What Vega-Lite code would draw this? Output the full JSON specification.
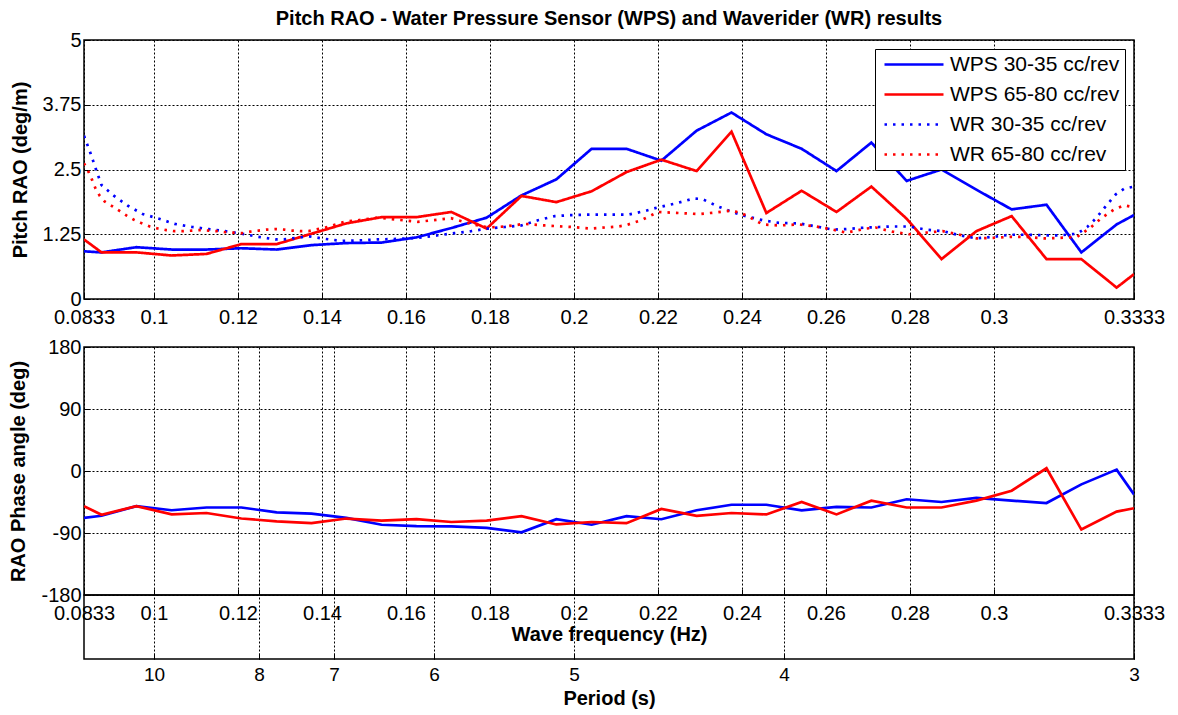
{
  "$schema": "https://vega.github.io/schema/vega-lite/v6.json",
  "padding": {"left": 8, "top": 8, "right": 5, "bottom": 3},
  "background": "white",
  "config": {
    "font": "Liberation Sans",
    "view": {"stroke": "black", "strokeWidth": 1.5},
    "axis": {
      "domain": false, "grid": true, "gridColor": "black", "gridDash": [2, 2], "gridWidth": 1, "gridOpacity": 1,
      "tickColor": "black", "tickSize": -6, "tickWidth": 1,
      "labelFontSize": 20, "labelColor": "black", "labelFont": "Liberation Sans",
      "titleFontSize": 20, "titleFontWeight": "bold", "titleColor": "black", "titleFont": "Liberation Sans",
      "labelFlush": false, "labelOverlap": false
    },
    "legend": {
      "labelFontSize": 21, "labelFont": "Liberation Sans", "labelColor": "black", "labelLimit": 400,
      "strokeColor": "black", "fillColor": "white", "padding": 5, "rowPadding": 8, "clipHeight": 21,
      "symbolType": "stroke", "symbolSize": 3481, "symbolStrokeWidth": 2.5, "symbolOffset": 3, "labelOffset": 5, "offset": 9
    }
  },
  "datasets": {
    "rao": [
      {"f": 0.083333, "v": 0.92, "s": "WPS 30-35 cc/rev"},
      {"f": 0.0875, "v": 0.90, "s": "WPS 30-35 cc/rev"},
      {"f": 0.0958, "v": 1.00, "s": "WPS 30-35 cc/rev"},
      {"f": 0.1042, "v": 0.955, "s": "WPS 30-35 cc/rev"},
      {"f": 0.1125, "v": 0.955, "s": "WPS 30-35 cc/rev"},
      {"f": 0.1208, "v": 0.98, "s": "WPS 30-35 cc/rev"},
      {"f": 0.1292, "v": 0.955, "s": "WPS 30-35 cc/rev"},
      {"f": 0.1375, "v": 1.04, "s": "WPS 30-35 cc/rev"},
      {"f": 0.1458, "v": 1.08, "s": "WPS 30-35 cc/rev"},
      {"f": 0.1542, "v": 1.09, "s": "WPS 30-35 cc/rev"},
      {"f": 0.1625, "v": 1.19, "s": "WPS 30-35 cc/rev"},
      {"f": 0.1708, "v": 1.37, "s": "WPS 30-35 cc/rev"},
      {"f": 0.1792, "v": 1.57, "s": "WPS 30-35 cc/rev"},
      {"f": 0.1875, "v": 2.00, "s": "WPS 30-35 cc/rev"},
      {"f": 0.1958, "v": 2.31, "s": "WPS 30-35 cc/rev"},
      {"f": 0.2042, "v": 2.90, "s": "WPS 30-35 cc/rev"},
      {"f": 0.2125, "v": 2.90, "s": "WPS 30-35 cc/rev"},
      {"f": 0.2208, "v": 2.67, "s": "WPS 30-35 cc/rev"},
      {"f": 0.2292, "v": 3.25, "s": "WPS 30-35 cc/rev"},
      {"f": 0.2375, "v": 3.60, "s": "WPS 30-35 cc/rev"},
      {"f": 0.2458, "v": 3.18, "s": "WPS 30-35 cc/rev"},
      {"f": 0.2542, "v": 2.90, "s": "WPS 30-35 cc/rev"},
      {"f": 0.2625, "v": 2.47, "s": "WPS 30-35 cc/rev"},
      {"f": 0.2708, "v": 3.02, "s": "WPS 30-35 cc/rev"},
      {"f": 0.2792, "v": 2.28, "s": "WPS 30-35 cc/rev"},
      {"f": 0.2875, "v": 2.50, "s": "WPS 30-35 cc/rev"},
      {"f": 0.2958, "v": 2.11, "s": "WPS 30-35 cc/rev"},
      {"f": 0.3042, "v": 1.73, "s": "WPS 30-35 cc/rev"},
      {"f": 0.3125, "v": 1.82, "s": "WPS 30-35 cc/rev"},
      {"f": 0.3208, "v": 0.90, "s": "WPS 30-35 cc/rev"},
      {"f": 0.3292, "v": 1.44, "s": "WPS 30-35 cc/rev"},
      {"f": 0.333333, "v": 1.62, "s": "WPS 30-35 cc/rev"},
      {"f": 0.083333, "v": 1.15, "s": "WPS 65-80 cc/rev"},
      {"f": 0.0875, "v": 0.90, "s": "WPS 65-80 cc/rev"},
      {"f": 0.0958, "v": 0.90, "s": "WPS 65-80 cc/rev"},
      {"f": 0.1042, "v": 0.84, "s": "WPS 65-80 cc/rev"},
      {"f": 0.1125, "v": 0.87, "s": "WPS 65-80 cc/rev"},
      {"f": 0.1208, "v": 1.06, "s": "WPS 65-80 cc/rev"},
      {"f": 0.1292, "v": 1.06, "s": "WPS 65-80 cc/rev"},
      {"f": 0.1375, "v": 1.26, "s": "WPS 65-80 cc/rev"},
      {"f": 0.1458, "v": 1.46, "s": "WPS 65-80 cc/rev"},
      {"f": 0.1542, "v": 1.58, "s": "WPS 65-80 cc/rev"},
      {"f": 0.1625, "v": 1.58, "s": "WPS 65-80 cc/rev"},
      {"f": 0.1708, "v": 1.68, "s": "WPS 65-80 cc/rev"},
      {"f": 0.1792, "v": 1.36, "s": "WPS 65-80 cc/rev"},
      {"f": 0.1875, "v": 1.99, "s": "WPS 65-80 cc/rev"},
      {"f": 0.1958, "v": 1.87, "s": "WPS 65-80 cc/rev"},
      {"f": 0.2042, "v": 2.08, "s": "WPS 65-80 cc/rev"},
      {"f": 0.2125, "v": 2.45, "s": "WPS 65-80 cc/rev"},
      {"f": 0.2208, "v": 2.69, "s": "WPS 65-80 cc/rev"},
      {"f": 0.2292, "v": 2.47, "s": "WPS 65-80 cc/rev"},
      {"f": 0.2375, "v": 3.23, "s": "WPS 65-80 cc/rev"},
      {"f": 0.2458, "v": 1.66, "s": "WPS 65-80 cc/rev"},
      {"f": 0.2542, "v": 2.09, "s": "WPS 65-80 cc/rev"},
      {"f": 0.2625, "v": 1.68, "s": "WPS 65-80 cc/rev"},
      {"f": 0.2708, "v": 2.17, "s": "WPS 65-80 cc/rev"},
      {"f": 0.2792, "v": 1.55, "s": "WPS 65-80 cc/rev"},
      {"f": 0.2875, "v": 0.77, "s": "WPS 65-80 cc/rev"},
      {"f": 0.2958, "v": 1.31, "s": "WPS 65-80 cc/rev"},
      {"f": 0.3042, "v": 1.60, "s": "WPS 65-80 cc/rev"},
      {"f": 0.3125, "v": 0.77, "s": "WPS 65-80 cc/rev"},
      {"f": 0.3208, "v": 0.77, "s": "WPS 65-80 cc/rev"},
      {"f": 0.3292, "v": 0.22, "s": "WPS 65-80 cc/rev"},
      {"f": 0.333333, "v": 0.48, "s": "WPS 65-80 cc/rev"},
      {"f": 0.083333, "v": 3.15, "s": "WR 30-35 cc/rev"},
      {"f": 0.0849, "v": 2.81, "s": "WR 30-35 cc/rev"},
      {"f": 0.0862, "v": 2.50, "s": "WR 30-35 cc/rev"},
      {"f": 0.0875, "v": 2.20, "s": "WR 30-35 cc/rev"},
      {"f": 0.0905, "v": 1.99, "s": "WR 30-35 cc/rev"},
      {"f": 0.0938, "v": 1.80, "s": "WR 30-35 cc/rev"},
      {"f": 0.0973, "v": 1.64, "s": "WR 30-35 cc/rev"},
      {"f": 0.1012, "v": 1.55, "s": "WR 30-35 cc/rev"},
      {"f": 0.1049, "v": 1.45, "s": "WR 30-35 cc/rev"},
      {"f": 0.1091, "v": 1.39, "s": "WR 30-35 cc/rev"},
      {"f": 0.113, "v": 1.35, "s": "WR 30-35 cc/rev"},
      {"f": 0.1169, "v": 1.31, "s": "WR 30-35 cc/rev"},
      {"f": 0.1209, "v": 1.26, "s": "WR 30-35 cc/rev"},
      {"f": 0.1248, "v": 1.20, "s": "WR 30-35 cc/rev"},
      {"f": 0.1289, "v": 1.15, "s": "WR 30-35 cc/rev"},
      {"f": 0.1309, "v": 1.15, "s": "WR 30-35 cc/rev"},
      {"f": 0.1348, "v": 1.19, "s": "WR 30-35 cc/rev"},
      {"f": 0.1368, "v": 1.21, "s": "WR 30-35 cc/rev"},
      {"f": 0.1408, "v": 1.16, "s": "WR 30-35 cc/rev"},
      {"f": 0.1448, "v": 1.12, "s": "WR 30-35 cc/rev"},
      {"f": 0.1485, "v": 1.13, "s": "WR 30-35 cc/rev"},
      {"f": 0.1532, "v": 1.15, "s": "WR 30-35 cc/rev"},
      {"f": 0.158, "v": 1.16, "s": "WR 30-35 cc/rev"},
      {"f": 0.1628, "v": 1.18, "s": "WR 30-35 cc/rev"},
      {"f": 0.1676, "v": 1.23, "s": "WR 30-35 cc/rev"},
      {"f": 0.1715, "v": 1.27, "s": "WR 30-35 cc/rev"},
      {"f": 0.1755, "v": 1.31, "s": "WR 30-35 cc/rev"},
      {"f": 0.1795, "v": 1.36, "s": "WR 30-35 cc/rev"},
      {"f": 0.1835, "v": 1.39, "s": "WR 30-35 cc/rev"},
      {"f": 0.1875, "v": 1.42, "s": "WR 30-35 cc/rev"},
      {"f": 0.1914, "v": 1.52, "s": "WR 30-35 cc/rev"},
      {"f": 0.1954, "v": 1.60, "s": "WR 30-35 cc/rev"},
      {"f": 0.1994, "v": 1.62, "s": "WR 30-35 cc/rev"},
      {"f": 0.2041, "v": 1.63, "s": "WR 30-35 cc/rev"},
      {"f": 0.2105, "v": 1.63, "s": "WR 30-35 cc/rev"},
      {"f": 0.213, "v": 1.63, "s": "WR 30-35 cc/rev"},
      {"f": 0.217, "v": 1.70, "s": "WR 30-35 cc/rev"},
      {"f": 0.22, "v": 1.77, "s": "WR 30-35 cc/rev"},
      {"f": 0.224, "v": 1.84, "s": "WR 30-35 cc/rev"},
      {"f": 0.2285, "v": 1.94, "s": "WR 30-35 cc/rev"},
      {"f": 0.2305, "v": 1.93, "s": "WR 30-35 cc/rev"},
      {"f": 0.2345, "v": 1.78, "s": "WR 30-35 cc/rev"},
      {"f": 0.2377, "v": 1.68, "s": "WR 30-35 cc/rev"},
      {"f": 0.2409, "v": 1.60, "s": "WR 30-35 cc/rev"},
      {"f": 0.2449, "v": 1.52, "s": "WR 30-35 cc/rev"},
      {"f": 0.2488, "v": 1.47, "s": "WR 30-35 cc/rev"},
      {"f": 0.2536, "v": 1.46, "s": "WR 30-35 cc/rev"},
      {"f": 0.2576, "v": 1.40, "s": "WR 30-35 cc/rev"},
      {"f": 0.2616, "v": 1.34, "s": "WR 30-35 cc/rev"},
      {"f": 0.2648, "v": 1.35, "s": "WR 30-35 cc/rev"},
      {"f": 0.2696, "v": 1.38, "s": "WR 30-35 cc/rev"},
      {"f": 0.2727, "v": 1.39, "s": "WR 30-35 cc/rev"},
      {"f": 0.2758, "v": 1.40, "s": "WR 30-35 cc/rev"},
      {"f": 0.2798, "v": 1.40, "s": "WR 30-35 cc/rev"},
      {"f": 0.2838, "v": 1.34, "s": "WR 30-35 cc/rev"},
      {"f": 0.2878, "v": 1.31, "s": "WR 30-35 cc/rev"},
      {"f": 0.2918, "v": 1.23, "s": "WR 30-35 cc/rev"},
      {"f": 0.2958, "v": 1.17, "s": "WR 30-35 cc/rev"},
      {"f": 0.2998, "v": 1.20, "s": "WR 30-35 cc/rev"},
      {"f": 0.3038, "v": 1.24, "s": "WR 30-35 cc/rev"},
      {"f": 0.3078, "v": 1.24, "s": "WR 30-35 cc/rev"},
      {"f": 0.3118, "v": 1.23, "s": "WR 30-35 cc/rev"},
      {"f": 0.3158, "v": 1.23, "s": "WR 30-35 cc/rev"},
      {"f": 0.3198, "v": 1.26, "s": "WR 30-35 cc/rev"},
      {"f": 0.3222, "v": 1.39, "s": "WR 30-35 cc/rev"},
      {"f": 0.3242, "v": 1.55, "s": "WR 30-35 cc/rev"},
      {"f": 0.3266, "v": 1.79, "s": "WR 30-35 cc/rev"},
      {"f": 0.329, "v": 2.02, "s": "WR 30-35 cc/rev"},
      {"f": 0.331, "v": 2.13, "s": "WR 30-35 cc/rev"},
      {"f": 0.333333, "v": 2.17, "s": "WR 30-35 cc/rev"},
      {"f": 0.083333, "v": 2.62, "s": "WR 65-80 cc/rev"},
      {"f": 0.0845, "v": 2.44, "s": "WR 65-80 cc/rev"},
      {"f": 0.0853, "v": 2.29, "s": "WR 65-80 cc/rev"},
      {"f": 0.0861, "v": 2.13, "s": "WR 65-80 cc/rev"},
      {"f": 0.0871, "v": 1.99, "s": "WR 65-80 cc/rev"},
      {"f": 0.0883, "v": 1.88, "s": "WR 65-80 cc/rev"},
      {"f": 0.0901, "v": 1.79, "s": "WR 65-80 cc/rev"},
      {"f": 0.0918, "v": 1.70, "s": "WR 65-80 cc/rev"},
      {"f": 0.0935, "v": 1.61, "s": "WR 65-80 cc/rev"},
      {"f": 0.0952, "v": 1.53, "s": "WR 65-80 cc/rev"},
      {"f": 0.0971, "v": 1.46, "s": "WR 65-80 cc/rev"},
      {"f": 0.099, "v": 1.40, "s": "WR 65-80 cc/rev"},
      {"f": 0.1009, "v": 1.36, "s": "WR 65-80 cc/rev"},
      {"f": 0.1029, "v": 1.33, "s": "WR 65-80 cc/rev"},
      {"f": 0.1048, "v": 1.31, "s": "WR 65-80 cc/rev"},
      {"f": 0.1069, "v": 1.31, "s": "WR 65-80 cc/rev"},
      {"f": 0.109, "v": 1.32, "s": "WR 65-80 cc/rev"},
      {"f": 0.111, "v": 1.33, "s": "WR 65-80 cc/rev"},
      {"f": 0.113, "v": 1.32, "s": "WR 65-80 cc/rev"},
      {"f": 0.115, "v": 1.31, "s": "WR 65-80 cc/rev"},
      {"f": 0.117, "v": 1.29, "s": "WR 65-80 cc/rev"},
      {"f": 0.119, "v": 1.28, "s": "WR 65-80 cc/rev"},
      {"f": 0.1209, "v": 1.27, "s": "WR 65-80 cc/rev"},
      {"f": 0.1229, "v": 1.30, "s": "WR 65-80 cc/rev"},
      {"f": 0.1249, "v": 1.32, "s": "WR 65-80 cc/rev"},
      {"f": 0.1269, "v": 1.34, "s": "WR 65-80 cc/rev"},
      {"f": 0.129, "v": 1.35, "s": "WR 65-80 cc/rev"},
      {"f": 0.131, "v": 1.34, "s": "WR 65-80 cc/rev"},
      {"f": 0.133, "v": 1.32, "s": "WR 65-80 cc/rev"},
      {"f": 0.1348, "v": 1.31, "s": "WR 65-80 cc/rev"},
      {"f": 0.1368, "v": 1.31, "s": "WR 65-80 cc/rev"},
      {"f": 0.1408, "v": 1.38, "s": "WR 65-80 cc/rev"},
      {"f": 0.1437, "v": 1.45, "s": "WR 65-80 cc/rev"},
      {"f": 0.1458, "v": 1.50, "s": "WR 65-80 cc/rev"},
      {"f": 0.1485, "v": 1.52, "s": "WR 65-80 cc/rev"},
      {"f": 0.1532, "v": 1.57, "s": "WR 65-80 cc/rev"},
      {"f": 0.158, "v": 1.53, "s": "WR 65-80 cc/rev"},
      {"f": 0.1628, "v": 1.49, "s": "WR 65-80 cc/rev"},
      {"f": 0.1676, "v": 1.53, "s": "WR 65-80 cc/rev"},
      {"f": 0.1707, "v": 1.56, "s": "WR 65-80 cc/rev"},
      {"f": 0.1755, "v": 1.45, "s": "WR 65-80 cc/rev"},
      {"f": 0.1795, "v": 1.38, "s": "WR 65-80 cc/rev"},
      {"f": 0.1835, "v": 1.40, "s": "WR 65-80 cc/rev"},
      {"f": 0.1882, "v": 1.45, "s": "WR 65-80 cc/rev"},
      {"f": 0.193, "v": 1.42, "s": "WR 65-80 cc/rev"},
      {"f": 0.1994, "v": 1.39, "s": "WR 65-80 cc/rev"},
      {"f": 0.2041, "v": 1.36, "s": "WR 65-80 cc/rev"},
      {"f": 0.2105, "v": 1.40, "s": "WR 65-80 cc/rev"},
      {"f": 0.2122, "v": 1.42, "s": "WR 65-80 cc/rev"},
      {"f": 0.216, "v": 1.52, "s": "WR 65-80 cc/rev"},
      {"f": 0.22, "v": 1.68, "s": "WR 65-80 cc/rev"},
      {"f": 0.225, "v": 1.66, "s": "WR 65-80 cc/rev"},
      {"f": 0.2297, "v": 1.64, "s": "WR 65-80 cc/rev"},
      {"f": 0.2337, "v": 1.67, "s": "WR 65-80 cc/rev"},
      {"f": 0.2377, "v": 1.71, "s": "WR 65-80 cc/rev"},
      {"f": 0.2409, "v": 1.62, "s": "WR 65-80 cc/rev"},
      {"f": 0.2449, "v": 1.44, "s": "WR 65-80 cc/rev"},
      {"f": 0.2488, "v": 1.42, "s": "WR 65-80 cc/rev"},
      {"f": 0.2536, "v": 1.44, "s": "WR 65-80 cc/rev"},
      {"f": 0.2576, "v": 1.40, "s": "WR 65-80 cc/rev"},
      {"f": 0.2616, "v": 1.34, "s": "WR 65-80 cc/rev"},
      {"f": 0.2648, "v": 1.28, "s": "WR 65-80 cc/rev"},
      {"f": 0.2696, "v": 1.36, "s": "WR 65-80 cc/rev"},
      {"f": 0.2718, "v": 1.38, "s": "WR 65-80 cc/rev"},
      {"f": 0.2758, "v": 1.30, "s": "WR 65-80 cc/rev"},
      {"f": 0.2798, "v": 1.25, "s": "WR 65-80 cc/rev"},
      {"f": 0.2838, "v": 1.28, "s": "WR 65-80 cc/rev"},
      {"f": 0.2878, "v": 1.31, "s": "WR 65-80 cc/rev"},
      {"f": 0.2918, "v": 1.24, "s": "WR 65-80 cc/rev"},
      {"f": 0.2958, "v": 1.17, "s": "WR 65-80 cc/rev"},
      {"f": 0.2998, "v": 1.18, "s": "WR 65-80 cc/rev"},
      {"f": 0.3038, "v": 1.20, "s": "WR 65-80 cc/rev"},
      {"f": 0.3078, "v": 1.20, "s": "WR 65-80 cc/rev"},
      {"f": 0.3118, "v": 1.17, "s": "WR 65-80 cc/rev"},
      {"f": 0.3158, "v": 1.18, "s": "WR 65-80 cc/rev"},
      {"f": 0.3198, "v": 1.20, "s": "WR 65-80 cc/rev"},
      {"f": 0.323, "v": 1.38, "s": "WR 65-80 cc/rev"},
      {"f": 0.3254, "v": 1.55, "s": "WR 65-80 cc/rev"},
      {"f": 0.3286, "v": 1.73, "s": "WR 65-80 cc/rev"},
      {"f": 0.331, "v": 1.81, "s": "WR 65-80 cc/rev"},
      {"f": 0.333333, "v": 1.77, "s": "WR 65-80 cc/rev"}
    ],
    "phase": [
      {"f": 0.083333, "p": -68, "s": "WPS 30-35 cc/rev"},
      {"f": 0.0875, "p": -65, "s": "WPS 30-35 cc/rev"},
      {"f": 0.0958, "p": -51, "s": "WPS 30-35 cc/rev"},
      {"f": 0.1042, "p": -57, "s": "WPS 30-35 cc/rev"},
      {"f": 0.1125, "p": -53, "s": "WPS 30-35 cc/rev"},
      {"f": 0.1208, "p": -53, "s": "WPS 30-35 cc/rev"},
      {"f": 0.1292, "p": -60, "s": "WPS 30-35 cc/rev"},
      {"f": 0.1375, "p": -62, "s": "WPS 30-35 cc/rev"},
      {"f": 0.1458, "p": -68, "s": "WPS 30-35 cc/rev"},
      {"f": 0.1542, "p": -78, "s": "WPS 30-35 cc/rev"},
      {"f": 0.1625, "p": -80, "s": "WPS 30-35 cc/rev"},
      {"f": 0.1708, "p": -80.5, "s": "WPS 30-35 cc/rev"},
      {"f": 0.1792, "p": -82.5, "s": "WPS 30-35 cc/rev"},
      {"f": 0.1875, "p": -89, "s": "WPS 30-35 cc/rev"},
      {"f": 0.1958, "p": -70, "s": "WPS 30-35 cc/rev"},
      {"f": 0.2042, "p": -78, "s": "WPS 30-35 cc/rev"},
      {"f": 0.2125, "p": -65.5, "s": "WPS 30-35 cc/rev"},
      {"f": 0.2208, "p": -70, "s": "WPS 30-35 cc/rev"},
      {"f": 0.2292, "p": -57, "s": "WPS 30-35 cc/rev"},
      {"f": 0.2375, "p": -49, "s": "WPS 30-35 cc/rev"},
      {"f": 0.2458, "p": -49, "s": "WPS 30-35 cc/rev"},
      {"f": 0.2542, "p": -57, "s": "WPS 30-35 cc/rev"},
      {"f": 0.2625, "p": -52, "s": "WPS 30-35 cc/rev"},
      {"f": 0.2708, "p": -53, "s": "WPS 30-35 cc/rev"},
      {"f": 0.2792, "p": -41, "s": "WPS 30-35 cc/rev"},
      {"f": 0.2875, "p": -45, "s": "WPS 30-35 cc/rev"},
      {"f": 0.2958, "p": -39, "s": "WPS 30-35 cc/rev"},
      {"f": 0.3042, "p": -43, "s": "WPS 30-35 cc/rev"},
      {"f": 0.3125, "p": -46.5, "s": "WPS 30-35 cc/rev"},
      {"f": 0.3208, "p": -19.4, "s": "WPS 30-35 cc/rev"},
      {"f": 0.3292, "p": 2, "s": "WPS 30-35 cc/rev"},
      {"f": 0.333333, "p": -34, "s": "WPS 30-35 cc/rev"},
      {"f": 0.083333, "p": -51, "s": "WPS 65-80 cc/rev"},
      {"f": 0.0875, "p": -63.5, "s": "WPS 65-80 cc/rev"},
      {"f": 0.0958, "p": -51, "s": "WPS 65-80 cc/rev"},
      {"f": 0.1042, "p": -63, "s": "WPS 65-80 cc/rev"},
      {"f": 0.1125, "p": -61, "s": "WPS 65-80 cc/rev"},
      {"f": 0.1208, "p": -69, "s": "WPS 65-80 cc/rev"},
      {"f": 0.1292, "p": -73, "s": "WPS 65-80 cc/rev"},
      {"f": 0.1375, "p": -75.7, "s": "WPS 65-80 cc/rev"},
      {"f": 0.1458, "p": -69, "s": "WPS 65-80 cc/rev"},
      {"f": 0.1542, "p": -72, "s": "WPS 65-80 cc/rev"},
      {"f": 0.1625, "p": -70, "s": "WPS 65-80 cc/rev"},
      {"f": 0.1708, "p": -74, "s": "WPS 65-80 cc/rev"},
      {"f": 0.1792, "p": -72, "s": "WPS 65-80 cc/rev"},
      {"f": 0.1875, "p": -65.5, "s": "WPS 65-80 cc/rev"},
      {"f": 0.1958, "p": -77.6, "s": "WPS 65-80 cc/rev"},
      {"f": 0.2042, "p": -74, "s": "WPS 65-80 cc/rev"},
      {"f": 0.2125, "p": -75.7, "s": "WPS 65-80 cc/rev"},
      {"f": 0.2208, "p": -55, "s": "WPS 65-80 cc/rev"},
      {"f": 0.2292, "p": -65, "s": "WPS 65-80 cc/rev"},
      {"f": 0.2375, "p": -61, "s": "WPS 65-80 cc/rev"},
      {"f": 0.2458, "p": -63, "s": "WPS 65-80 cc/rev"},
      {"f": 0.2542, "p": -45, "s": "WPS 65-80 cc/rev"},
      {"f": 0.2625, "p": -63, "s": "WPS 65-80 cc/rev"},
      {"f": 0.2708, "p": -43, "s": "WPS 65-80 cc/rev"},
      {"f": 0.2792, "p": -53, "s": "WPS 65-80 cc/rev"},
      {"f": 0.2875, "p": -53, "s": "WPS 65-80 cc/rev"},
      {"f": 0.2958, "p": -43, "s": "WPS 65-80 cc/rev"},
      {"f": 0.3042, "p": -28.6, "s": "WPS 65-80 cc/rev"},
      {"f": 0.3125, "p": 4, "s": "WPS 65-80 cc/rev"},
      {"f": 0.3208, "p": -85, "s": "WPS 65-80 cc/rev"},
      {"f": 0.3292, "p": -59, "s": "WPS 65-80 cc/rev"},
      {"f": 0.333333, "p": -54, "s": "WPS 65-80 cc/rev"}
    ]
  },
  "resolve": {"scale": {"color": "independent", "strokeDash": "independent"}, "legend": {"color": "independent", "strokeDash": "independent"}},
  "spacing": 48,
  "bounds": "flush",
  "vconcat": [
    {
      "width": 1050,
      "height": 259,
      "title": {"text": "Pitch RAO - Water Pressure Sensor (WPS) and Waverider (WR) results", "fontSize": 20, "fontWeight": "bold", "color": "black", "anchor": "middle", "offset": 1, "font": "Liberation Sans"},
      "data": {"name": "rao"},
      "mark": {"type": "line", "strokeWidth": 2.7, "clip": true},
      "encoding": {
        "x": {
          "field": "f", "type": "quantitative",
          "scale": {"domain": [0.083333, 0.333333], "nice": false, "zero": false},
          "axis": {"values": [0.083333, 0.1, 0.12, 0.14, 0.16, 0.18, 0.2, 0.22, 0.24, 0.26, 0.28, 0.3, 0.333333], "format": ".4~f", "title": null, "labelPadding": 14}
        },
        "y": {
          "field": "v", "type": "quantitative",
          "scale": {"domain": [0, 5], "nice": false},
          "axis": {"values": [0, 1.25, 2.5, 3.75, 5], "labelExpr": "'' + datum.value", "title": "Pitch RAO (deg/m)", "labelPadding": 9, "titlePadding": 12}
        },
        "color": {
          "field": "s", "type": "nominal",
          "scale": {"domain": ["WPS 30-35 cc/rev", "WPS 65-80 cc/rev", "WR 30-35 cc/rev", "WR 65-80 cc/rev"], "range": ["#0000ff", "#ff0000", "#0000ff", "#ff0000"]},
          "legend": {"title": null, "orient": "top-right"}
        },
        "strokeDash": {
          "field": "s", "type": "nominal",
          "scale": {"domain": ["WPS 30-35 cc/rev", "WPS 65-80 cc/rev", "WR 30-35 cc/rev", "WR 65-80 cc/rev"], "range": [[1, 0], [1, 0], [2.5, 6], [2.5, 6]]},
          "legend": {"title": null, "orient": "top-right"}
        }
      }
    },
    {
      "spacing": 0,
      "bounds": "flush",
      "vconcat": [
        {
          "width": 1050,
          "height": 248,
          "data": {"name": "phase"},
          "mark": {"type": "line", "strokeWidth": 2.7, "clip": true},
          "encoding": {
            "x": {
              "field": "f", "type": "quantitative",
              "scale": {"domain": [0.083333, 0.333333], "nice": false, "zero": false},
              "axis": {
                "values": [0.083333, 0.1, 0.12, 0.125, 0.14, 0.142857, 0.16, 0.166667, 0.18, 0.2, 0.22, 0.24, 0.25, 0.26, 0.28, 0.3, 0.333333],
                "format": ".4~f",
                "labelExpr": "(datum.value == 0.125 || datum.value == 0.142857 || datum.value == 0.166667 || datum.value == 0.25) ? '' : datum.label",
                "title": "Wave frequency (Hz)", "labelPadding": 14, "titlePadding": 1
              }
            },
            "y": {
              "field": "p", "type": "quantitative",
              "scale": {"domain": [-180, 180], "nice": false},
              "axis": {"values": [-180, -90, 0, 90, 180], "labelExpr": "'' + datum.value", "title": "RAO Phase angle (deg)", "labelPadding": 9, "titlePadding": 12}
            },
            "color": {
              "field": "s", "type": "nominal",
              "scale": {"domain": ["WPS 30-35 cc/rev", "WPS 65-80 cc/rev"], "range": ["#0000ff", "#ff0000"]},
              "legend": null
            }
          }
        },
        {
          "width": 1050,
          "height": 64,
          "data": {"name": "phase"},
          "mark": {"type": "point", "opacity": 0},
          "encoding": {
            "x": {
              "field": "f", "type": "quantitative",
              "scale": {"domain": [0.083333, 0.333333], "nice": false, "zero": false},
              "axis": {
                "values": [0.1, 0.125, 0.142857, 0.166667, 0.2, 0.25, 0.333333],
                "labelExpr": "'' + round(1 / datum.value)",
                "title": "Period (s)", "labelPadding": 12, "titlePadding": 4, "labelFontSize": 19
              }
            }
          }
        }
      ]
    }
  ]
}
